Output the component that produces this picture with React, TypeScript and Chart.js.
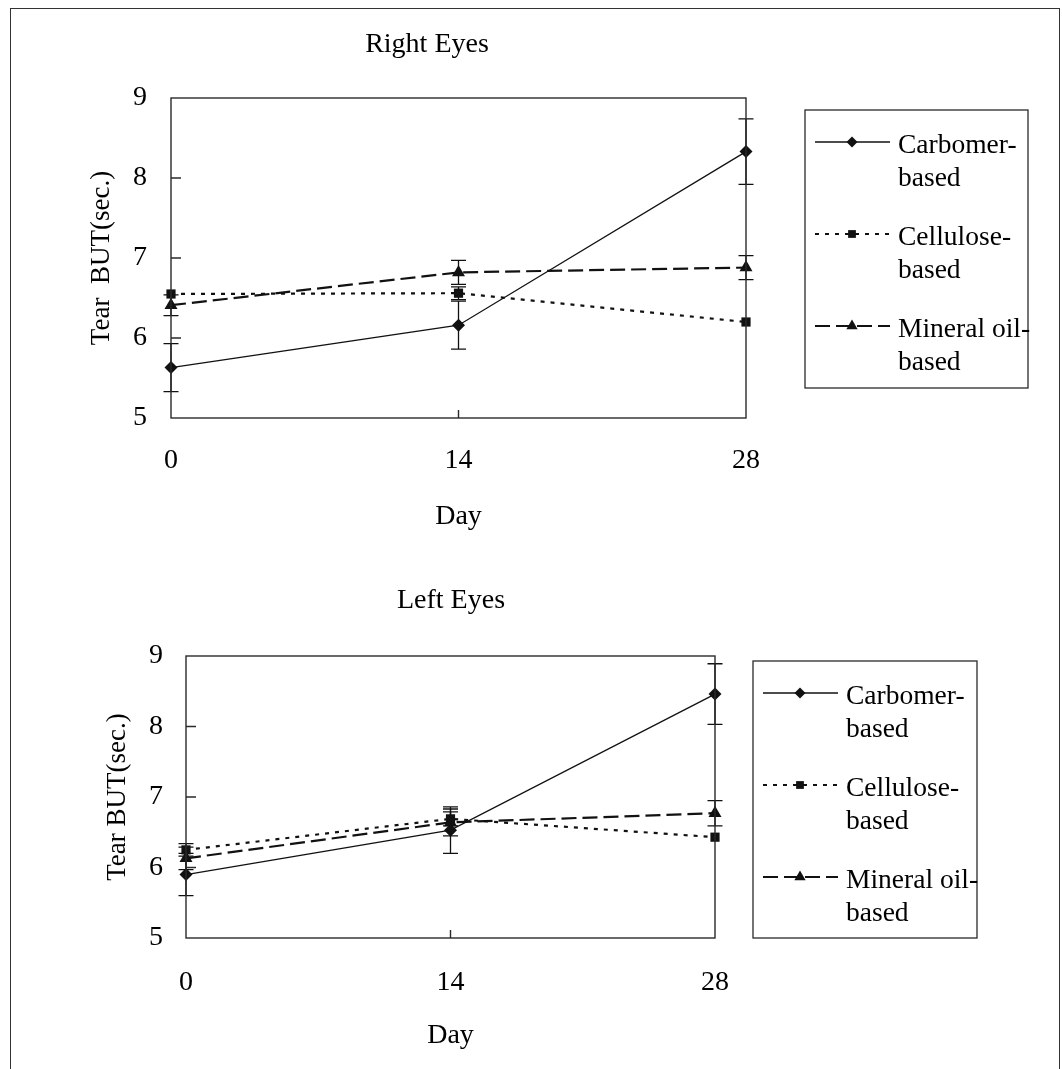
import React, { useEffect, useRef } from 'react';
import { Chart, registerables } from 'chart.js';

Chart.register(...registerables);

// ---------- data ----------
const days = [0, 14, 28];
const xTicks = [0, 14, 28];
const yTicks = [5, 6, 7, 8, 9];
const seriesNames = ['Carbomer-based', 'Cellulose-based', 'Mineral oil-based'];
const legendLines = [
  ['Carbomer-', 'based'],
  ['Cellulose-', 'based'],
  ['Mineral oil-', 'based'],
];

const rightCarbomer = [5.63, 6.16, 8.33];
const rightCarbomerSD = [0.3, 0.3, 0.41];
const rightCellulose = [6.55, 6.56, 6.2];
const rightCelluloseSD = [0, 0.08, 0];
const rightMineral = [6.41, 6.82, 6.88];
const rightMineralSD = [0.13, 0.15, 0.15];

const leftCarbomer = [5.9, 6.53, 8.46];
const leftCarbomerSD = [0.3, 0.33, 0.43];
const leftCellulose = [6.25, 6.69, 6.43];
const leftCelluloseSD = [0.09, 0.1, 0];
const leftMineral = [6.13, 6.64, 6.77];
const leftMineralSD = [0.16, 0.19, 0.18];

// ---------- styling ----------
const FONT = '"Liberation Serif", "Times New Roman", Times, serif';
const INK = '#111';

function drawMarker(ctx: CanvasRenderingContext2D, style: string, x: number, y: number, r: number) {
  ctx.beginPath();
  if (style === 'rectRot') {
    ctx.moveTo(x - r, y);
    ctx.lineTo(x, y - r);
    ctx.lineTo(x + r, y);
    ctx.lineTo(x, y + r);
  } else if (style === 'rect') {
    const s = r * Math.SQRT1_2;
    ctx.rect(x - s, y - s, 2 * s, 2 * s);
  } else {
    let a = 0;
    ctx.moveTo(x + Math.sin(a) * r, y - Math.cos(a) * r);
    a += (2 * Math.PI) / 3;
    ctx.lineTo(x + Math.sin(a) * r, y - Math.cos(a) * r);
    a += (2 * Math.PI) / 3;
    ctx.lineTo(x + Math.sin(a) * r, y - Math.cos(a) * r);
  }
  ctx.closePath();
  ctx.fill();
}

const decorPlugin = {
  id: 'decor',
  beforeDatasetsDraw(chart: any) {
    const ctx: CanvasRenderingContext2D = chart.ctx;
    const xs = chart.scales.x;
    const ys = chart.scales.y;
    ctx.save();
    ctx.strokeStyle = INK;
    ctx.lineWidth = 1.3;
    ctx.setLineDash([]);
    chart.data.datasets.forEach((ds: any) => {
      const sd: number[] = ds.sd || [];
      ds.data.forEach((p: any, i: number) => {
        const e = sd[i] || 0;
        if (!e) return;
        const x = xs.getPixelForValue(p.x);
        const y1 = ys.getPixelForValue(p.y + e);
        const y2 = ys.getPixelForValue(p.y - e);
        ctx.beginPath();
        ctx.moveTo(x, y1);
        ctx.lineTo(x, y2);
        ctx.moveTo(x - 7.5, y1);
        ctx.lineTo(x + 7.5, y1);
        ctx.moveTo(x - 7.5, y2);
        ctx.lineTo(x + 7.5, y2);
        ctx.stroke();
      });
    });
    ctx.restore();
  },
  afterDraw(chart: any, _args: any, opts: any) {
    const ctx: CanvasRenderingContext2D = chart.ctx;
    const area = chart.chartArea;
    const xs = chart.scales.x;
    const ys = chart.scales.y;
    ctx.save();
    // plot frame
    ctx.strokeStyle = '#2a2a2a';
    ctx.lineWidth = 1.4;
    ctx.setLineDash([]);
    ctx.strokeRect(area.left, area.top, area.right - area.left, area.bottom - area.top);
    // inner ticks
    ctx.beginPath();
    ys.ticks.forEach((t: any) => {
      if (t.value === ys.min || t.value === ys.max) return;
      const y = ys.getPixelForValue(t.value);
      ctx.moveTo(area.left, y);
      ctx.lineTo(area.left + 10, y);
    });
    xs.ticks.forEach((t: any) => {
      if (t.value === xs.min || t.value === xs.max) return;
      const x = xs.getPixelForValue(t.value);
      ctx.moveTo(x, area.bottom);
      ctx.lineTo(x, area.bottom - 8);
    });
    ctx.stroke();

    // title
    ctx.fillStyle = '#000';
    ctx.font = `28px ${FONT}`;
    ctx.textAlign = 'center';
    ctx.textBaseline = 'alphabetic';
    ctx.fillText(opts.title, opts.titleX, opts.titleBaseline);

    // legend
    const b = opts.legendBox;
    ctx.strokeStyle = '#2a2a2a';
    ctx.lineWidth = 1.3;
    ctx.strokeRect(b.x, b.y, b.w, b.h);
    chart.data.datasets.forEach((ds: any, i: number) => {
      const ly = b.y + 32 + i * 92;
      ctx.save();
      ctx.strokeStyle = INK;
      ctx.lineWidth = ds.borderWidth;
      ctx.setLineDash(ds.borderDash || []);
      ctx.beginPath();
      ctx.moveTo(b.x + 10, ly);
      ctx.lineTo(b.x + 85, ly);
      ctx.stroke();
      ctx.fillStyle = INK;
      drawMarker(ctx, ds.pointStyle, b.x + 47, ly, ds.pointStyle === 'triangle' ? 6.5 : 5.5);
      ctx.restore();
      ctx.fillStyle = '#000';
      ctx.font = `27.5px ${FONT}`;
      ctx.textAlign = 'left';
      ctx.textBaseline = 'alphabetic';
      const lines = legendLines[i];
      lines.forEach((t, k) => ctx.fillText(t, b.x + 93, ly + 11 + k * 33));
    });
    ctx.restore();
  },
};

function makeDatasets(
  carb: number[], carbSD: number[], cell: number[], cellSD: number[], min: number[], minSD: number[]
) {
  const pts = (v: number[]) => days.map((d, i) => ({ x: d, y: v[i] }));
  return [
    {
      label: seriesNames[0], data: pts(carb), sd: carbSD,
      borderColor: INK, backgroundColor: INK, borderWidth: 1.3,
      pointStyle: 'rectRot', pointRadius: 6.5, pointBorderWidth: 0,
      tension: 0, clip: false,
    },
    {
      label: seriesNames[1], data: pts(cell), sd: cellSD,
      borderColor: INK, backgroundColor: INK, borderWidth: 2.2, borderDash: [4, 6],
      pointStyle: 'rect', pointRadius: 6.5, pointBorderWidth: 0,
      tension: 0, clip: false,
    },
    {
      label: seriesNames[2], data: pts(min), sd: minSD,
      borderColor: INK, backgroundColor: INK, borderWidth: 2.2, borderDash: [15, 6],
      pointStyle: 'triangle', pointRadius: 7.5, pointBorderWidth: 0,
      tension: 0, clip: false,
    },
  ];
}

function makeConfig(p: any): any {
  const font = { family: FONT, size: 28 };
  return {
    type: 'line',
    data: { datasets: p.datasets },
    plugins: [decorPlugin],
    options: {
      responsive: false,
      animation: false,
      events: [],
      layout: { padding: p.padding },
      plugins: {
        legend: { display: false },
        tooltip: { enabled: false },
        decor: {
          title: p.title,
          titleX: p.titleX,
          titleBaseline: p.titleBaseline,
          legendBox: p.legendBox,
        },
      },
      scales: {
        x: {
          type: 'linear',
          min: 0,
          max: 28,
          afterBuildTicks: (s: any) => { s.ticks = xTicks.map((v) => ({ value: v })); },
          afterFit: (s: any) => { s.height = p.xHeight; },
          ticks: { color: '#000', font, padding: p.xPad },
          grid: { display: false, drawTicks: false, tickLength: 0 },
          border: { display: false },
          title: { display: true, text: 'Day', color: '#000', font, padding: { top: 4, bottom: 4 } },
        },
        y: {
          type: 'linear',
          min: 5,
          max: 9,
          afterBuildTicks: (s: any) => { s.ticks = yTicks.map((v) => ({ value: v })); },
          afterFit: (s: any) => { s.width = p.yWidth; },
          ticks: { color: '#000', font, padding: p.yPad },
          grid: { display: false, drawTicks: false, tickLength: 0 },
          border: { display: false },
          title: { display: true, text: p.yTitle, color: '#000', font: { family: FONT, size: 27 }, padding: { top: 4, bottom: 4 } },
        },
      },
    },
  };
}

function ChartCanvas({ config, top, height }: { config: any; top: number; height: number }) {
  const ref = useRef<HTMLCanvasElement>(null);
  useEffect(() => {
    const chart = new Chart(ref.current as HTMLCanvasElement, config);
    return () => chart.destroy();
  }, []);
  return (
    <canvas
      ref={ref}
      width={1062}
      height={height}
      style={{ position: 'absolute', left: 0, top, width: 1062, height, display: 'block' }}
    />
  );
}

export default function App() {
  const topCfg = makeConfig({
    datasets: makeDatasets(rightCarbomer, rightCarbomerSD, rightCellulose, rightCelluloseSD, rightMineral, rightMineralSD),
    padding: { left: 82, top: 98, right: 316, bottom: 0 },
    yWidth: 89,
    xHeight: 119,
    xPad: 26,
    yPad: 24,
    yTitle: 'Tear  BUT(sec.)',
    title: 'Right Eyes',
    titleX: 427,
    titleBaseline: 52,
    legendBox: { x: 805, y: 110, w: 223, h: 278 },
  });
  const botCfg = makeConfig({
    datasets: makeDatasets(leftCarbomer, leftCarbomerSD, leftCellulose, leftCelluloseSD, leftMineral, leftMineralSD),
    padding: { left: 98, top: 119, right: 347, bottom: 13 },
    yWidth: 88,
    xHeight: 118,
    xPad: 28,
    yPad: 23,
    yTitle: 'Tear BUT(sec.)',
    title: 'Left Eyes',
    titleX: 451,
    titleBaseline: 71,
    legendBox: { x: 753, y: 124, w: 224, h: 277 },
  });
  return (
    <div
      style={{
        position: 'absolute', left: 0, top: 0, width: 1062, height: 1069,
        overflow: 'hidden', background: '#fff',
      }}
    >
      <div
        style={{
          position: 'absolute', left: 10, top: 8, width: 1048, height: 1100,
          borderTop: '1.5px solid #333', borderLeft: '1.5px solid #333', borderRight: '1.5px solid #333',
        }}
      />
      <ChartCanvas config={topCfg} top={0} height={537} />
      <ChartCanvas config={botCfg} top={537} height={532} />
    </div>
  );
}
